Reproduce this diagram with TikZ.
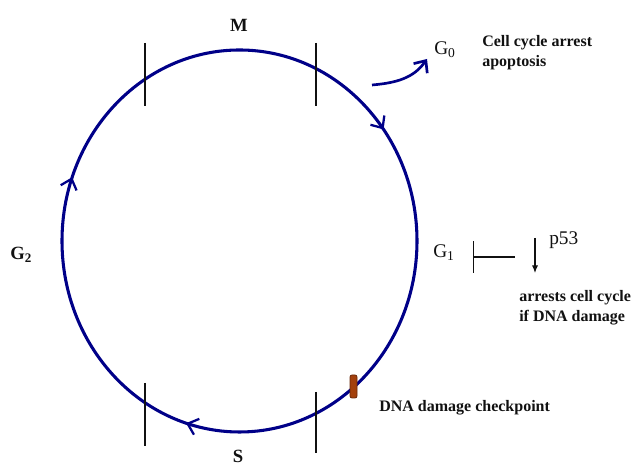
\documentclass[tikz,border=0pt]{standalone}
\usepackage{fontspec}
\setmainfont{Liberation Serif}
\usetikzlibrary{arrows.meta,decorations.markings}
\definecolor{cyc}{HTML}{000088}
\definecolor{ink}{HTML}{111111}
\definecolor{chk}{HTML}{A3400C}
\definecolor{chkrim}{HTML}{6A2808}
\newcommand{\CX}{239.5}
\newcommand{\CY}{225}
\newcommand{\RX}{177.5}
\newcommand{\RY}{191}
\tikzset{
  phase/.style={font=\bfseries\fontsize{14}{16}\selectfont,text=ink,inner sep=0pt},
  gate/.style={font=\fontsize{14.5}{17}\selectfont,text=ink,inner sep=0pt},
  note/.style={font=\bfseries\fontsize{12}{15}\selectfont,text=ink,inner sep=0pt,align=left},
  tick/.style={draw=ink,line width=1.5pt},
  ring/.style={draw=cyc,line width=2.3pt,postaction={decorate},
    decoration={markings,
      mark=at position 0.148 with {\arrow[cyc,line width=1.7pt]{>}},
      mark=at position 0.547 with {\arrow[cyc,line width=1.7pt]{>}},
      mark=at position 0.806 with {\arrow[cyc,line width=1.7pt]{>}}}}
}

\begin{document}
\begin{tikzpicture}[x=0.75pt,y=0.75pt,>={Straight Barb[length=2.5mm,width=4.4mm]}]
\useasboundingbox (0,0) rectangle (644,466);

% ---------------- the cycle ------------------------------------------------
\draw[ring] (\CX,\CY+\RY) arc[start angle=90,end angle=-270,x radius=\RX,y radius=\RY];
\foreach \x/\ya/\yb in {145/423/360,316/423/360,145/83/20,316/74/13}
  {\draw[tick] (\x,\ya) -- (\x,\yb);}

\node[phase,anchor=base] (m) at (239,434) {M};
\node[phase,anchor=base] (s) at (238,3) {S};
\node[phase,anchor=base west] (g2) at (10,206) {G\textsubscript{2}};
\node[gate,anchor=base west] (g1) at (433,208) {G\textsubscript{1}};
\node[gate,anchor=base west] (g0) at (434,411) {G\textsubscript{0}};

% ---------------- exit to G0 -----------------------------------------------
\coordinate (exit) at (372,381);
\coordinate (g0tip) at (427,407);
\draw[cyc,line width=2pt,->] (exit) to[out=5,in=235] (g0tip);
% base of a two-line node is its last line
\node[note,anchor=base west] (arrest) at (482,399) {Cell cycle arrest\\apoptosis};

% ---------------- p53 block ------------------------------------------------
\coordinate (stop) at (473,209);
\coordinate (hold) at (515,209);
\draw[ink,line width=0.8pt,{Bar[width=8.2mm]}-] (stop) -- (hold);
\coordinate (p53top) at (535,228);
\coordinate (p53bot) at (535,193);
\draw[ink,line width=0.8pt,-{Latex[length=2mm,width=1.6mm]}] (p53top) -- (p53bot);
\node[gate,anchor=base west] (p53) at (549,221) {p53};
\node[note,anchor=base west] (arrests) at (519,144) {arrests cell cycle\\if DNA damage};

% ---------------- checkpoint -----------------------------------------------
\draw[fill=chk,draw=chkrim,line width=0.6pt,rounded corners=1.5pt] (350,68) rectangle (357,91);
\node[note,anchor=base west] (dna) at (379,54) {DNA damage checkpoint};

\end{tikzpicture}
\end{document}
